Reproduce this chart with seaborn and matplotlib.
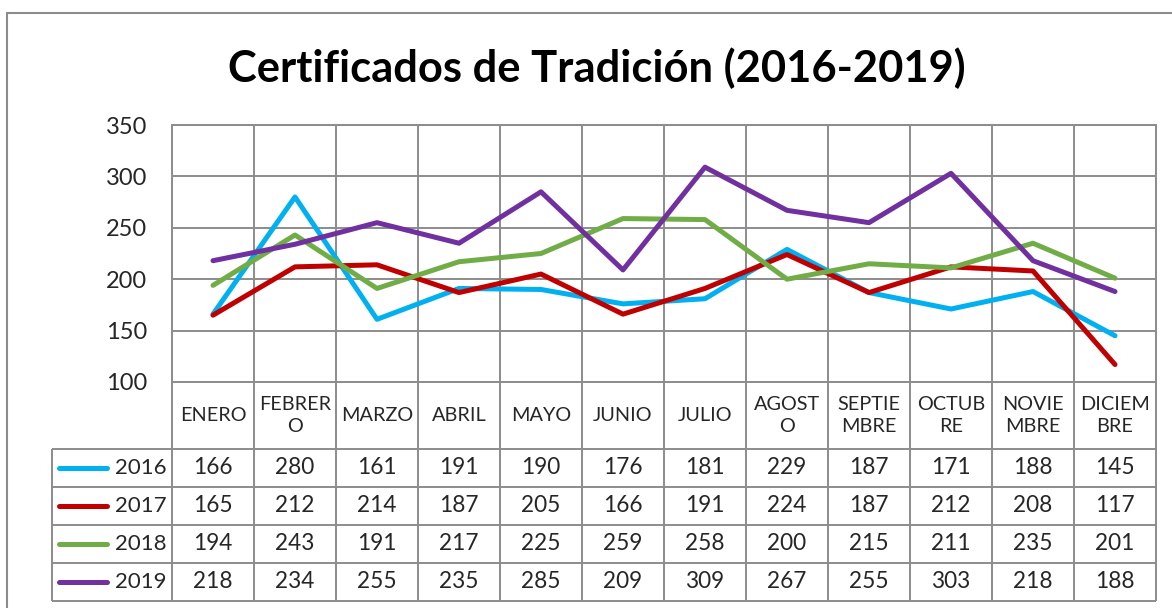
import numpy as np
import pandas as pd
import matplotlib
matplotlib.use("Agg")
import matplotlib.pyplot as plt
import seaborn as sns
from matplotlib.patches import Rectangle

# --- data ---------------------------------------------------------------
meses = ["ENERO", "FEBRERO", "MARZO", "ABRIL", "MAYO", "JUNIO", "JULIO",
         "AGOSTO", "SEPTIEMBRE", "OCTUBRE", "NOVIEMBRE", "DICIEMBRE"]
meses_tabla = ["ENERO", "FEBRER\nO", "MARZO", "ABRIL", "MAYO", "JUNIO", "JULIO",
               "AGOST\nO", "SEPTIE\nMBRE", "OCTUB\nRE", "NOVIE\nMBRE", "DICIEM\nBRE"]
anios = ["2016", "2017", "2018", "2019"]
v2016 = [166, 280, 161, 191, 190, 176, 181, 229, 187, 171, 188, 145]
v2017 = [165, 212, 214, 187, 205, 166, 191, 224, 187, 212, 208, 117]
v2018 = [194, 243, 191, 217, 225, 259, 258, 200, 215, 211, 235, 201]
v2019 = [218, 234, 255, 235, 285, 209, 309, 267, 255, 303, 218, 188]
series = [v2016, v2017, v2018, v2019]
colores = ["#00B0F0", "#C00000", "#70AD47", "#7030A0"]
y_ticks = [100, 150, 200, 250, 300, 350]

df = pd.DataFrame({
    "mes": np.tile(np.arange(len(meses)), len(anios)),
    "valor": np.concatenate(series),
    "anio": np.repeat(anios, len(meses)),
})

# --- style --------------------------------------------------------------
sns.set_theme(style="white")
plt.rcParams["font.family"] = ["Lato", "DejaVu Sans"]
GRID = "#8c8c8c"
W, H = 1172, 608

fig = plt.figure(figsize=(W / 100, H / 100), dpi=100)
fig.patch.set_facecolor("white")

# outer chart frame
fig.patches.append(Rectangle((7 / W, -0.05), 1.2, (H - 13) / H + 0.05,
                             transform=fig.transFigure, fill=False,
                             edgecolor=GRID, linewidth=1.5))

fig.text(597 / W, 1 - 68 / H, "Certificados de Tradición (2016-2019)",
         ha="center", va="center", fontsize=31.3, fontweight="bold", color="black")

# --- plot area ----------------------------------------------------------
left, right, top, bottom = 172, 1156, 125, 382
ax = fig.add_axes([left / W, 1 - bottom / H, (right - left) / W, (bottom - top) / H])
sns.lineplot(data=df, x="mes", y="valor", hue="anio", palette=colores,
             linewidth=3.6, ax=ax, legend=False, sort=False)
for ln in ax.lines:
    ln.set_solid_capstyle("round")
    ln.set_solid_joinstyle("round")

ax.set_xlim(-0.5, len(meses) - 0.5)
ax.set_ylim(y_ticks[0], y_ticks[-1])
ax.set_yticks(y_ticks)
ax.set_yticklabels([str(t) for t in y_ticks], fontsize=17)
ax.set_xticks(np.arange(-0.5, len(meses), 1))
ax.set_xticklabels([])
ax.tick_params(axis="both", length=0)
ax.tick_params(axis="y", pad=18)
ax.grid(True, color=GRID, linewidth=1.4)
ax.set_xlabel("")
ax.set_ylabel("")
for sp in ax.spines.values():
    sp.set_visible(True)
    sp.set_color(GRID)
    sp.set_linewidth(1.4)
ax.set_axisbelow(True)

# --- data table ---------------------------------------------------------
tbl_bottom = 601
tab = fig.add_axes([left / W, 1 - tbl_bottom / H, (right - left) / W,
                    (tbl_bottom - bottom) / H])
col_px = (right - left) / len(meses)
row_px = 38
hdr = (tbl_bottom - bottom - 4 * row_px) / row_px
total = hdr + 4
tab.set_xlim(-0.5, len(meses) - 0.5)
tab.set_ylim(total, 0)
tab.axis("off")

x_lab = -0.5 - (left - 52) / col_px
kw = dict(color=GRID, linewidth=1.4, clip_on=False)
tab.vlines(np.arange(-0.5, len(meses), 1), 0, total, **kw)
tab.vlines(x_lab, hdr, total, **kw)
tab.hlines(hdr + np.arange(5), x_lab, len(meses) - 0.5, **kw)

for i, m in enumerate(meses_tabla):
    tab.text(i, hdr / 2, m, ha="center", va="center", fontsize=14.3,
             linespacing=1.3, clip_on=False)

for r, (anio, vals, c) in enumerate(zip(anios, series, colores)):
    yc = hdr + r + 0.5
    x0 = -0.5 + (59 - left) / col_px
    x1 = -0.5 + (107 - left) / col_px
    tab.plot([x0, x1], [yc, yc], color=c, linewidth=3.6,
             solid_capstyle="round", clip_on=False)
    tab.text(-0.5 + (167 - left) / col_px, yc, anio, ha="right", va="center",
             fontsize=16, clip_on=False)
    for i, v in enumerate(vals):
        tab.text(i, yc, str(v), ha="center", va="center", fontsize=16.3)

fig.savefig("out.png", dpi=100, facecolor="white")
